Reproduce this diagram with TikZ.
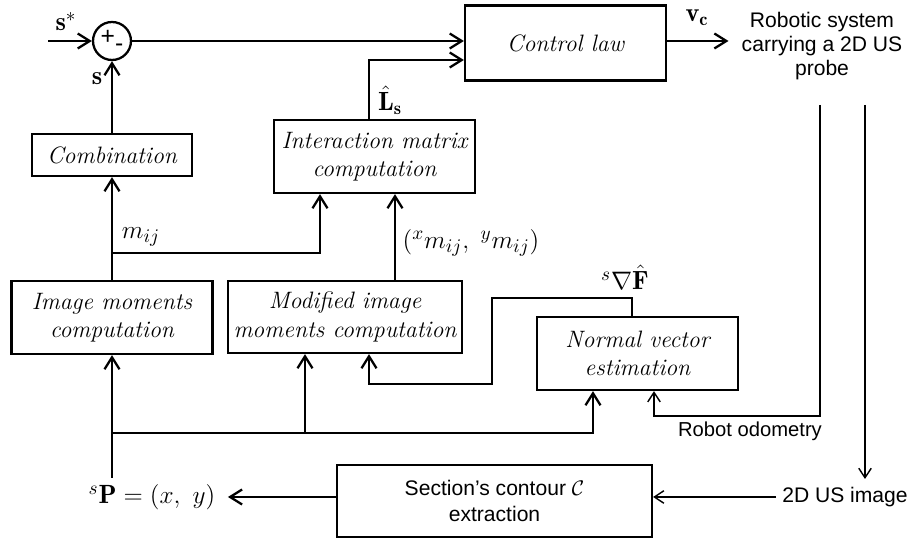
\documentclass[tikz,border=0pt]{standalone}
\usepackage{fontspec}
\setsansfont{Liberation Sans}
\usepackage{amsmath}
\usetikzlibrary{arrows.meta,positioning}

\begin{document}
\begin{tikzpicture}[
    x=0.02cm, y=-0.02cm,
    blk/.style={rectangle, draw=black, line width=1.3pt, minimum width=4.02cm, minimum height=1.46cm, align=center, font=\fontsize{13.5}{16}\selectfont\itshape},
    sblk/.style={blk, font=\sffamily\fontsize{12}{14.5}\selectfont},
    lbl/.style={inner sep=1pt, font=\fontsize{15}{17}\selectfont},
    stxt/.style={align=center, font=\sffamily\fontsize{12}{13.5}\selectfont},
    conn/.style={line width=1.3pt, -{Straight Barb[length=2.4mm,width=3mm]}},
    thinconn/.style={line width=0.8pt, -{Straight Barb[length=1.9mm,width=2.5mm]}}
    ]
    \useasboundingbox (0,0) rectangle (921,543);

    \node[circle, draw=black, line width=1.3pt, minimum size=0.76cm, inner sep=0pt] (sum) at (112,41) {\sffamily\fontsize{14}{14}\selectfont +\raisebox{-0.55ex}{-}};
    \node[blk, minimum height=1.5cm] (ctrl) at (565.5,43) {Control law};
    \node[blk] (inter) at (374.5,156.5) {Interaction matrix\\computation};
    \node[blk, minimum width=3.2cm, minimum height=0.84cm] (comb) at (112,155) {Combination};
    \node[blk] (imom) at (112,317.5) {Image moments\\computation};
    \node[blk, minimum width=4.52cm, minimum height=1.44cm] (mmom) at (345,317) {Modified image\\moments computation};
    \node[blk] (norm) at (637.5,353.5) {Normal vector\\estimation};
    \node[sblk, minimum width=6.3cm, minimum height=1.44cm] (sec) at (494.5,501) {Section's contour $\mathcal{C}$\\extraction};

    \node[lbl] (sstar) at (66,22) {$\mathbf{s}^*$};
    \node[lbl] (slbl) at (97,79) {$\mathbf{s}$};
    \node[lbl] (ls) at (390,100) {$\hat{\mathbf{L}}_{\mathbf{s}}$};
    \node[lbl] (mij) at (141,237) {$m_{ij}$};
    \node[lbl] (xym) at (471,243) {$({}^x m_{ij},\; {}^y m_{ij})$};
    \node[lbl] (gradf) at (625,277) {${}^s\nabla\hat{\mathbf{F}}$};
    \node[lbl] (vc) at (697,18) {$\mathbf{v_c}$};
    \node[lbl] (sp) at (152,497) {${}^s\mathbf{P} = (x,\ y)$};
    \node[stxt] (robot) at (822,46) {Robotic system\\carrying a 2D US\\probe};
    \node[stxt] (us) at (845,497) {2D US image};
    \node[stxt, font=\sffamily\fontsize{11.5}{13}\selectfont] (odo) at (750,431) {Robot odometry};

    \coordinate (in) at (48,41);
    \coordinate (lsk) at (369,60);
    \coordinate (mj) at (112,253);
    \coordinate (mk) at (320,253);
    \coordinate (xyk) at (395,240);
    \coordinate (f1) at (632,298);
    \coordinate (f2) at (492,298);
    \coordinate (f3) at (492,384);
    \coordinate (f4) at (369,384);
    \coordinate (pt) at (112,478);
    \coordinate (bus) at (112,433);
    \coordinate (busm) at (305,433);
    \coordinate (busr) at (593,433);
    \coordinate (r1) at (820,105);
    \coordinate (r2) at (820,416);
    \coordinate (r3) at (654,416);
    \coordinate (u1) at (865,105);
    \coordinate (u2) at (865,479);

    \draw[conn] (in) -- (sum.west);
    \draw[conn] (sum.east) -- (sum.east -| ctrl.west);
    \draw[conn] (inter.north -| lsk) |- (lsk -| ctrl.west);
    \draw[conn] (ctrl.east |- sum.east) -- ([xshift=-4pt]sum.east -| robot.west);
    \draw[conn] (comb.north) -- (sum.south);
    \draw[conn] (imom.north) -- (comb.south);
    \draw[conn] (mj) -- (mk) -- (mk |- inter.south);
    \draw[conn] (mmom.north -| xyk) -- (xyk |- inter.south);
    \draw[conn] (norm.north -| f1) -- (f1) -- (f2) -- (f3) -- (f4) -- (f4 |- mmom.south);
    \draw[conn] (pt) -- (imom.south);
    \draw[conn] (bus) -- (busr) -- (busr |- norm.south);
    \draw[conn] (busm) -- (busm |- mmom.south);
    \draw[conn] (sec.west |- sp.east) -- ([xshift=6pt]sp.east);
    \draw[thinconn] (r1) -- (r2) -- (r3) -- (r3 |- norm.south);
    \draw[thinconn] (u1) -- (u2);
    \draw[thinconn] (us.west) -- (us.west -| sec.east);
  \end{tikzpicture}
\end{document}
